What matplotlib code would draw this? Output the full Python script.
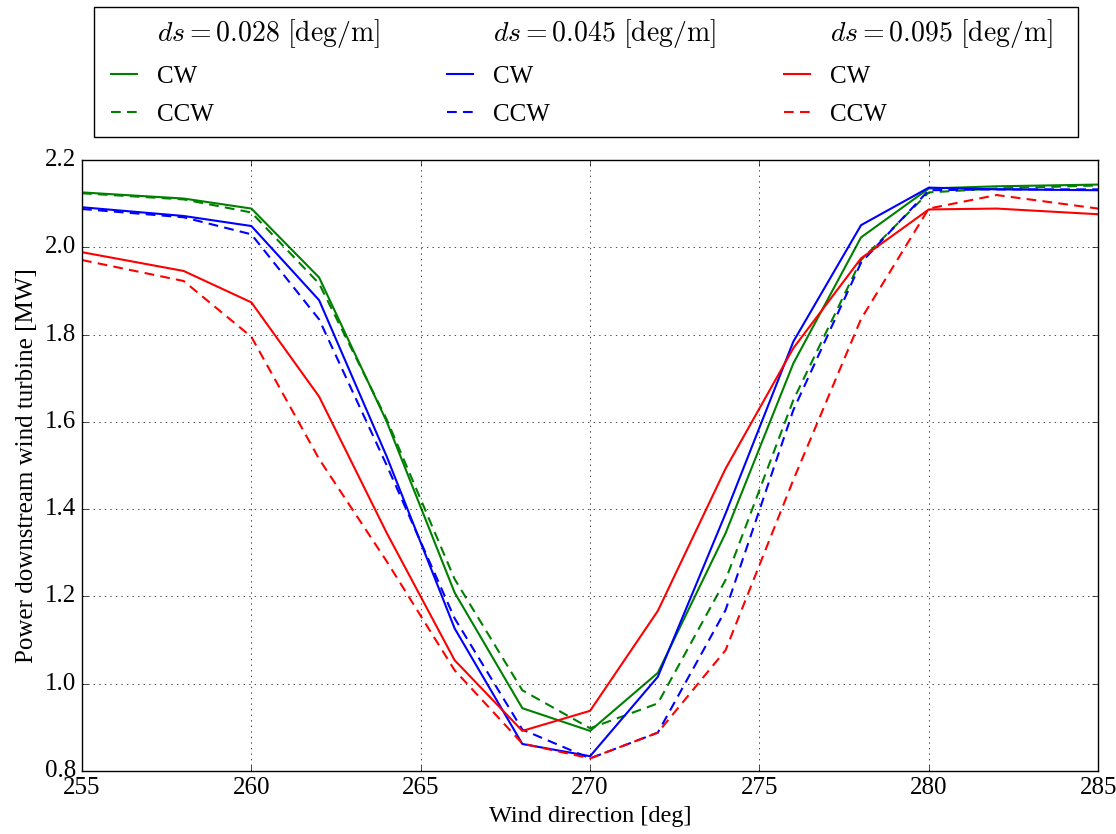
import matplotlib
matplotlib.use('Agg')
import matplotlib.pyplot as plt
from matplotlib.lines import Line2D
from matplotlib.patches import Rectangle

plt.style.use('classic')
plt.rcParams['font.family'] = ['Liberation Serif', 'DejaVu Serif']
plt.rcParams['mathtext.fontset'] = 'cm'

# wind direction [deg]
wind_dir = [255, 258, 260, 262, 264, 266, 268, 270, 272, 274, 276, 278, 280, 282, 285]

# power downstream turbine [MW]
p028_cw = [2.126, 2.112, 2.089, 1.931, 1.600, 1.209, 0.944, 0.892, 1.025, 1.345, 1.734, 2.023, 2.135, 2.140, 2.144]
p028_ccw = [2.124, 2.110, 2.080, 1.917, 1.605, 1.240, 0.985, 0.898, 0.955, 1.238, 1.650, 1.971, 2.126, 2.135, 2.142]
p045_cw = [2.092, 2.072, 2.049, 1.879, 1.520, 1.127, 0.862, 0.834, 1.016, 1.390, 1.784, 2.051, 2.137, 2.133, 2.131]
p045_ccw = [2.088, 2.069, 2.030, 1.835, 1.500, 1.150, 0.895, 0.829, 0.888, 1.169, 1.627, 1.965, 2.131, 2.133, 2.133]
p095_cw = [1.989, 1.946, 1.874, 1.658, 1.345, 1.054, 0.892, 0.938, 1.167, 1.493, 1.769, 1.975, 2.087, 2.089, 2.076]
p095_ccw = [1.971, 1.923, 1.795, 1.515, 1.280, 1.031, 0.863, 0.829, 0.888, 1.077, 1.467, 1.836, 2.089, 2.120, 2.089]

ds_values = ['0.028', '0.045', '0.095']
colors = ['g', 'b', 'r']
cw_series = [p028_cw, p045_cw, p095_cw]
ccw_series = [p028_ccw, p045_ccw, p095_ccw]

fig = plt.figure(figsize=(11.16, 8.34), dpi=100, facecolor='w')
ax = fig.add_axes([0.0735, 0.0755, 0.9105, 0.7325])

handles = []
labels = []
for ds, c, cw, ccw in zip(ds_values, colors, cw_series, ccw_series):
    l1, = ax.plot(wind_dir, cw, color=c, linestyle='-', linewidth=1.5)
    l2, = ax.plot(wind_dir, ccw, color=c, linestyle='--', linewidth=1.5, dashes=(7, 4.5))
    # empty entry works as a column header in the legend
    handles += [Line2D([], [], color='none'), l1, l2]
    labels += [r'$ds = ' + ds + r'\ [\mathrm{deg/m}]$', 'CW', 'CCW']

ax.set_xlim(255, 285)
ax.set_ylim(0.8, 2.2)
ax.set_xticks(range(255, 286, 5))
ax.set_yticks([0.8, 1.0, 1.2, 1.4, 1.6, 1.8, 2.0, 2.2])
ax.set_yticklabels(['%.1f' % v for v in ax.get_yticks()])
ax.tick_params(labelsize=18)
ax.grid(True)
ax.set_xlabel('Wind direction [deg]', fontsize=17.5)
ax.set_ylabel('Power downstream wind turbine [MW]', fontsize=18)

leg = fig.legend(handles, labels, ncol=3, loc='upper left',
                 bbox_to_anchor=(0.0836, 0.9916), fontsize=18,
                 handlelength=1.65, handletextpad=0.5, labelspacing=0.62,
                 columnspacing=2.39, borderpad=0.4, borderaxespad=0,
                 frameon=False)
for t in leg.get_texts():
    if t.get_text().startswith('$'):
        t.set_fontsize(20)

# legend frame drawn separately so it can be wider than the entries
fig.patches.append(Rectangle((0.0842, 0.8357), 0.8817, 0.1559, transform=fig.transFigure,
                             fill=False, edgecolor='k', linewidth=1.0))

fig.savefig('out.png', dpi=100, facecolor='w')
